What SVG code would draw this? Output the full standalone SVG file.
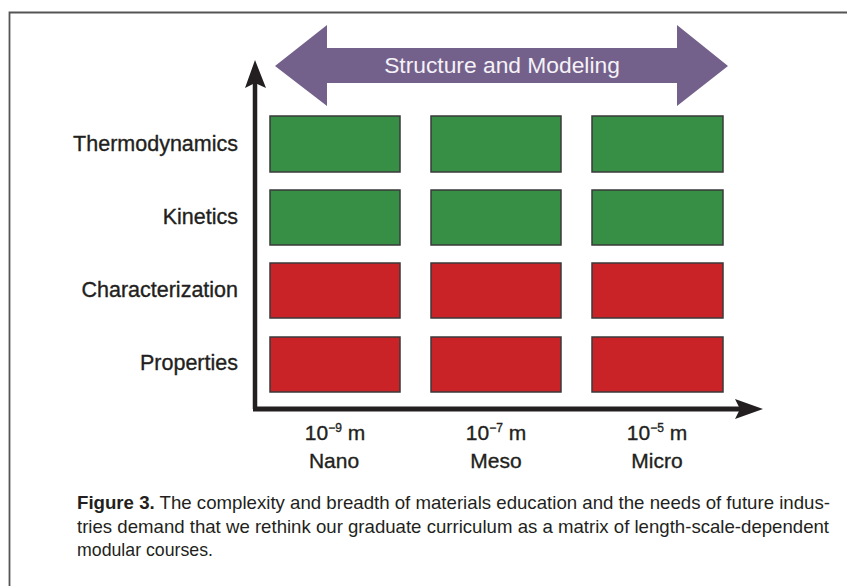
<svg xmlns="http://www.w3.org/2000/svg" width="847" height="586" viewBox="0 0 847 586">
<style>
.lbl{font-family:"Liberation Sans",Arial,sans-serif;font-size:21.5px;fill:#231f20;stroke:#231f20;stroke-width:0.35}
.ax{font-family:"Liberation Sans",Arial,sans-serif;font-size:21px;fill:#231f20;stroke:#231f20;stroke-width:0.35;text-anchor:middle}
.sup{font-size:12px}
.g{fill:#368f45;stroke:#3a3a3a;stroke-width:1.5}
.r{fill:#c92328;stroke:#3a3a3a;stroke-width:1.5}
.cap{font-family:"Liberation Sans",Arial,sans-serif;font-size:18.5px;fill:#231f20}
</style>
<rect width="847" height="586" fill="#fff"/>
<path d="M9.5,586 V12.5 H847" fill="none" stroke="#555" stroke-width="1.8"/>
<g id="structure-modeling">
<polygon points="275,66 327,25 327,48 677,48 677,25 728,66 677,106 677,83 327,83 327,106" fill="#74618b"/>
<text x="502" y="73" font-family="'Liberation Sans',Arial,sans-serif" font-size="22.8" fill="#f4f2f7" text-anchor="middle">Structure and Modeling</text>
</g>
<g id="axes">
<line x1="255" y1="409" x2="255" y2="80" stroke="#231f20" stroke-width="4.5"/>
<polygon points="255,60 266,88 255,83 245,88" fill="#231f20"/>
<line x1="253" y1="409" x2="745" y2="409" stroke="#231f20" stroke-width="5"/>
<polygon points="763,409 735,399 740,409 735,419" fill="#231f20"/>
</g>
<g id="row-thermodynamics">
<text class="lbl" x="238" y="151" text-anchor="end">Thermodynamics</text>
<rect class="g" x="270" y="116" width="130" height="56"/>
<rect class="g" x="431" y="116" width="130" height="56"/>
<rect class="g" x="592" y="116" width="131" height="56"/>
</g>
<g id="row-kinetics">
<text class="lbl" x="238" y="224" text-anchor="end">Kinetics</text>
<rect class="g" x="270" y="190" width="130" height="55"/>
<rect class="g" x="431" y="190" width="130" height="55"/>
<rect class="g" x="592" y="190" width="131" height="55"/>
</g>
<g id="row-characterization">
<text class="lbl" x="238" y="297" text-anchor="end">Characterization</text>
<rect class="r" x="270" y="263" width="130" height="55"/>
<rect class="r" x="431" y="263" width="130" height="55"/>
<rect class="r" x="592" y="263" width="131" height="55"/>
</g>
<g id="row-properties">
<text class="lbl" x="238" y="370" text-anchor="end">Properties</text>
<rect class="r" x="270" y="337" width="130" height="55"/>
<rect class="r" x="431" y="337" width="130" height="55"/>
<rect class="r" x="592" y="337" width="131" height="55"/>
</g>
<g id="col-nano">
<text class="ax" x="335" y="440">10<tspan class="sup" dy="-8">−9</tspan><tspan dy="8"> m</tspan></text>
<text class="ax" x="334" y="468">Nano</text>
</g>
<g id="col-meso">
<text class="ax" x="496" y="440">10<tspan class="sup" dy="-8">−7</tspan><tspan dy="8"> m</tspan></text>
<text class="ax" x="496" y="468">Meso</text>
</g>
<g id="col-micro">
<text class="ax" x="657" y="440">10<tspan class="sup" dy="-8">−5</tspan><tspan dy="8"> m</tspan></text>
<text class="ax" x="657" y="468">Micro</text>
</g>
<g id="caption">
<text class="cap" x="77" y="509" textLength="753" lengthAdjust="spacingAndGlyphs"><tspan font-weight="bold">Figure 3.</tspan> The complexity and breadth of materials education and the needs of future indus-</text>
<text class="cap" x="77" y="533" textLength="752" lengthAdjust="spacingAndGlyphs">tries demand that we rethink our graduate curriculum as a matrix of length-scale-dependent</text>
<text class="cap" x="77" y="556" textLength="136" lengthAdjust="spacingAndGlyphs">modular courses.</text>
</g>
</svg>
